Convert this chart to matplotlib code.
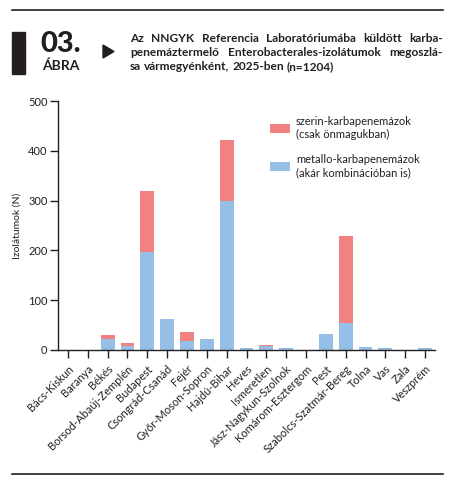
import numpy as np
import matplotlib
matplotlib.use('Agg')
import matplotlib.pyplot as plt
from matplotlib.lines import Line2D
from matplotlib.patches import Rectangle, Polygon, Patch

plt.rcParams['font.family'] = ['Lato', 'DejaVu Sans']

# Data
counties = ['Bács-Kiskun', 'Baranya', 'Békés', 'Borsod-Abaúj-Zemplén', 'Budapest',
            'Csongrád-Csanád', 'Fejér', 'Győr-Moson-Sopron', 'Hajdú-Bihar', 'Heves',
            'Ismeretlen', 'Jász-Nagykun-Szolnok', 'Komárom-Esztergom', 'Pest',
            'Szabolcs-Szatmár-Bereg', 'Tolna', 'Vas', 'Zala', 'Veszprém']
metallo = [0, 0, 23, 9, 197, 62, 18, 22, 299, 4, 9, 4, 0, 32, 54, 6, 4, 0, 4]
szerin = [0, 0, 7, 5, 122, 0, 18, 0, 123, 0, 1, 0, 0, 0, 175, 0, 0, 0, 0]
yticks = [0, 100, 200, 300, 400, 500]

label_szerin = 'szerin-karbapenemázok\n(csak önmagukban)'
label_metallo = 'metallo-karbapenemázok\n(akár kombinációban is)'
title_lines = ['Az NNGYK Referencia Laboratóriumába küldött karba-',
               'penemáztermelő Enterobacterales-izolátumok megoszlá-',
               'sa vármegyénként, 2025-ben (n=1204)']

RED = '#F28282'
BLUE = '#95BFE6'
INK = '#231F20'

W, H = 468, 495
fig = plt.figure(figsize=(W / 100, H / 100), dpi=100)

def fx(px):
    return px / W

def fy(py):
    return 1 - py / H

# Plot area
ax = fig.add_axes([fx(58), fy(350), fx(435) - fx(58), fy(101) - fy(350)])
x = np.arange(len(counties))
ax.bar(x, metallo, width=0.7, color=BLUE, zorder=2)
ax.bar(x, szerin, width=0.7, bottom=metallo, color=RED, zorder=2)

ax.set_xlim(-0.5, len(counties) - 0.5)
ax.set_ylim(0, 500)
ax.set_yticks(yticks)
ax.set_xticks(x)
ax.set_xticklabels(counties, rotation=45, ha='right', rotation_mode='anchor',
                   fontsize=8, color=INK)
ax.tick_params(axis='both', direction='out', length=5.5, width=1.0, color=INK,
               labelsize=8, labelcolor=INK, pad=2)
ax.tick_params(axis='x', pad=4)
for side in ['top', 'right']:
    ax.spines[side].set_visible(False)
for side in ['left', 'bottom']:
    ax.spines[side].set_color(INK)
    ax.spines[side].set_linewidth(1.0)
ax.set_ylabel('Izolátumok (N)', fontsize=7.5, color=INK, labelpad=5)

# Legend
handles = [Patch(facecolor=RED, edgecolor='none'), Patch(facecolor=BLUE, edgecolor='none')]
ax.legend(handles, [label_szerin, label_metallo], loc='upper left',
          bbox_to_anchor=(fx(260), fy(106)), bbox_transform=fig.transFigure,
          frameon=False, fontsize=8, handlelength=1.8, handleheight=0.9,
          handletextpad=0.55, labelspacing=1.3, labelcolor=INK)

# Header decorations
fig.add_artist(Line2D([fx(12), fx(443)], [fy(10), fy(10)], color=INK, lw=1.2))
fig.add_artist(Line2D([fx(12), fx(443)], [fy(474), fy(474)], color=INK, lw=1.2))
fig.add_artist(Rectangle((fx(12), fy(74)), fx(25) - fx(12), fy(32) - fy(74),
                         color=INK, transform=fig.transFigure))
fig.add_artist(Polygon([[fx(103), fy(45)], [fx(103), fy(58)], [fx(114), fy(51.5)]],
                       closed=True, color=INK, transform=fig.transFigure))
fig.text(fx(61), fy(44), '03.', fontsize=21, fontweight='black', color=INK,
         ha='center', va='center')
fig.text(fx(61), fy(66), 'ÁBRA', fontsize=10, fontweight='bold', color=INK,
         ha='center', va='center')

# Justified title block
x0, x1 = 130, 443
tsize = 8.6
renderer = fig.canvas.get_renderer()
space_w = fig.text(0, 0, ' ', fontsize=tsize, fontweight='bold', alpha=0).get_window_extent(renderer).width
for i, (line, py) in enumerate(zip(title_lines, [38, 52, 67])):
    words = line.split(' ')
    texts = [fig.text(0, fy(py), w, fontsize=tsize, fontweight='bold', color=INK, va='center')
             for w in words]
    widths = [t.get_window_extent(renderer).width for t in texts]
    if i < len(title_lines) - 1:
        gap = max((x1 - x0 - sum(widths)) / (len(words) - 1), space_w * 0.8)
    else:
        gap = space_w
    pos = x0
    for t, w in zip(texts, widths):
        t.set_x(fx(pos))
        pos += w + gap

fig.savefig('out.png', dpi=100)
